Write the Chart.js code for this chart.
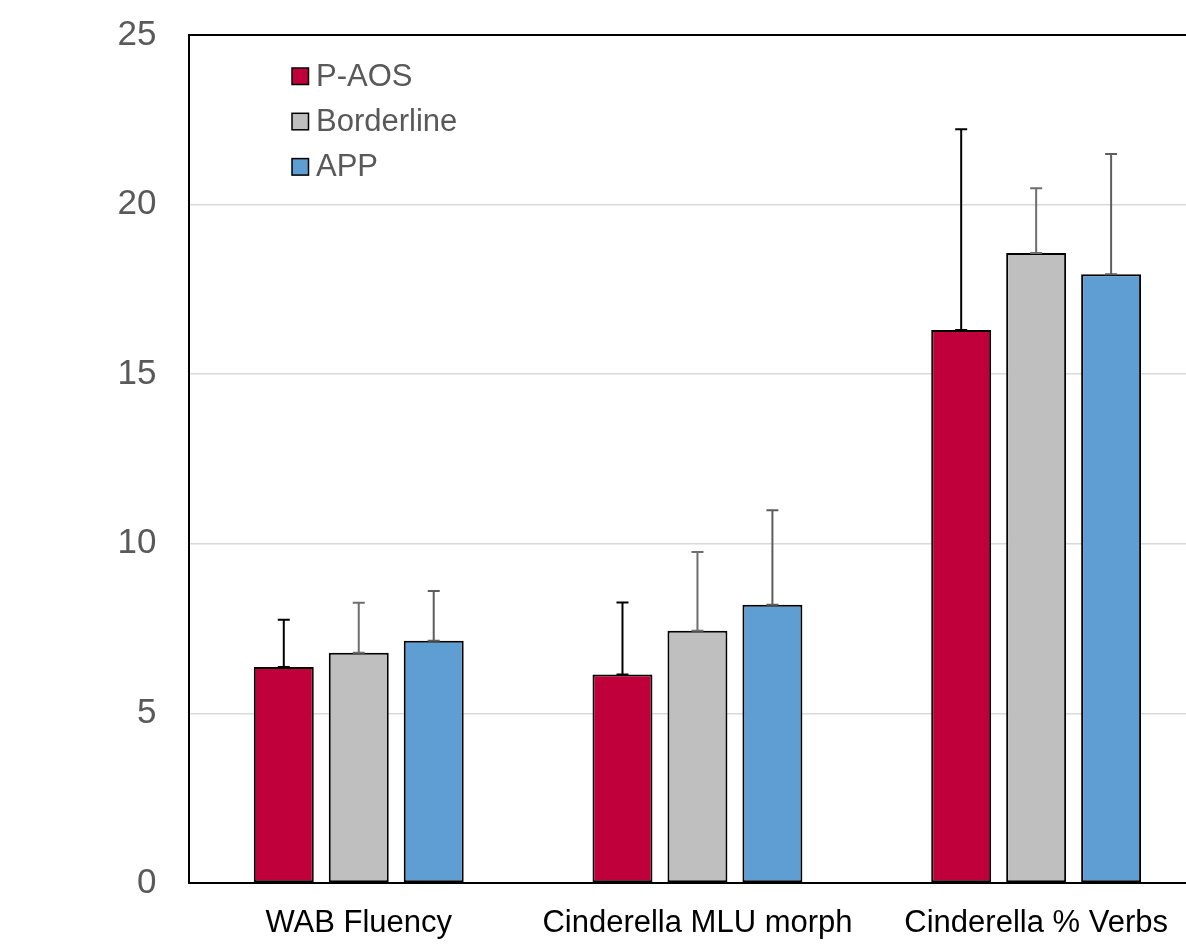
<!DOCTYPE html>
<html>
<head>
<meta charset="utf-8">
<script src="https://cdn.jsdelivr.net/npm/chart.js@4.4.1/dist/chart.umd.min.js"></script>
<style>
  html, body { margin: 0; padding: 0; background: #ffffff; overflow: hidden; }
  #wrap { width: 1220px; height: 951px; }
</style>
</head>
<body>
<div id="wrap"><canvas id="c" width="1220" height="951"></canvas></div>
<script>
const categories = ['WAB Fluency', 'Cinderella MLU morph', 'Cinderella % Verbs'];
const seriesNames = ['P-AOS', 'Borderline', 'APP'];
const paosValues = [6.37, 6.15, 16.30];
const paosErrors = [1.39, 2.12, 5.92];
const borderlineValues = [6.79, 7.44, 18.57];
const borderlineErrors = [1.47, 2.32, 1.91];
const appValues = [7.14, 8.20, 17.95];
const appErrors = [1.47, 2.79, 3.54];
const yTicks = [0, 5, 10, 15, 20, 25];

const FONT = '"Liberation Sans", Arial, Helvetica, sans-serif';
const fills = ['#C0003A', '#BFBFBF', '#5F9ED2'];
const errColors = ['#000000', '#6E6E6E', '#5E5E5E'];
const errorSets = [paosErrors, borderlineErrors, appErrors];

const errorBarPlugin = {
  id: 'errorBars',
  afterDatasetsDraw(chart) {
    const ctx = chart.ctx;
    const yScale = chart.scales.y;
    chart.data.datasets.forEach((ds, di) => {
      const meta = chart.getDatasetMeta(di);
      meta.data.forEach((bar, i) => {
        const v = ds.data[i];
        const e = errorSets[di][i];
        const yTop = yScale.getPixelForValue(v + e);
        const yBase = yScale.getPixelForValue(v);
        ctx.save();
        ctx.strokeStyle = errColors[di];
        ctx.lineWidth = 2;
        ctx.beginPath();
        ctx.moveTo(bar.x, yBase);
        ctx.lineTo(bar.x, yTop);
        ctx.moveTo(bar.x - 6, yTop);
        ctx.lineTo(bar.x + 6, yTop);
        ctx.moveTo(bar.x - 6, yBase);
        ctx.lineTo(bar.x + 6, yBase);
        ctx.stroke();
        ctx.restore();
      });
    });
  }
};

const legendPlugin = {
  id: 'customLegend',
  afterDraw(chart) {
    const ctx = chart.ctx;
    ctx.save();
    chart.data.datasets.forEach((ds, i) => {
      const cy = 76 + i * 45.3;
      ctx.fillStyle = ds.backgroundColor;
      ctx.fillRect(292, cy - 8, 16.5, 16.5);
      ctx.strokeStyle = '#000';
      ctx.lineWidth = 1.5;
      ctx.strokeRect(292, cy - 8, 16.5, 16.5);
      ctx.fillStyle = '#595959';
      ctx.font = '31px ' + FONT;
      ctx.textBaseline = 'middle';
      ctx.textAlign = 'left';
      ctx.fillText(ds.label, 316, cy + 1);
    });
    ctx.restore();
  }
};

const topBorderPlugin = {
  id: 'topBorder',
  afterDraw(chart) {
    const a = chart.chartArea;
    const ctx = chart.ctx;
    ctx.save();
    ctx.strokeStyle = '#000';
    ctx.lineWidth = 2;
    ctx.beginPath();
    ctx.moveTo(a.left, a.top);
    ctx.lineTo(a.right, a.top);
    ctx.stroke();
    ctx.restore();
  }
};

const valueSets = [paosValues, borderlineValues, appValues];
new Chart(document.getElementById('c'), {
  type: 'bar',
  data: {
    labels: categories,
    datasets: seriesNames.map((name, i) => ({
      label: name,
      data: valueSets[i],
      backgroundColor: fills[i],
      borderColor: '#000000',
      borderWidth: 2,
      borderSkipped: false,
      categoryPercentage: 0.664,
      barPercentage: 0.8
    }))
  },
  options: {
    responsive: false,
    maintainAspectRatio: false,
    animation: false,
    devicePixelRatio: 1,
    layout: { padding: { left: 0, right: 14.5, top: 35, bottom: 0 } },
    plugins: {
      legend: { display: false },
      tooltip: { enabled: false }
    },
    scales: {
      x: {
        grid: { display: false, drawTicks: false },
        border: { display: true, color: '#000000', width: 2 },
        ticks: {
          color: '#000000',
          font: { family: FONT, size: 31 },
          padding: 22,
          maxRotation: 0
        },
        afterFit(scale) {
          scale.height = 68;
          scale.paddingLeft = 0; scale.paddingRight = 0;
        }
      },
      y: {
        min: 0,
        max: 25,
        afterBuildTicks(scale) { scale.ticks = yTicks.map(v => ({ value: v })); },
        grid: {
          drawTicks: false,
          color: (c) => c.tick && c.tick.value === 25 ? '#000000' : '#D9D9D9',
          lineWidth: 1.5
        },
        border: { display: true, color: '#000000', width: 2 },
        ticks: {
          color: '#595959',
          font: { family: FONT, size: 35 },
          padding: 33
        },
        afterFit(scale) {
          scale.width = 189.4;
          scale.paddingTop = 0; scale.paddingBottom = 0;
        }
      }
    }
  },
  plugins: [errorBarPlugin, legendPlugin, topBorderPlugin]
});
</script>
</body>
</html>
